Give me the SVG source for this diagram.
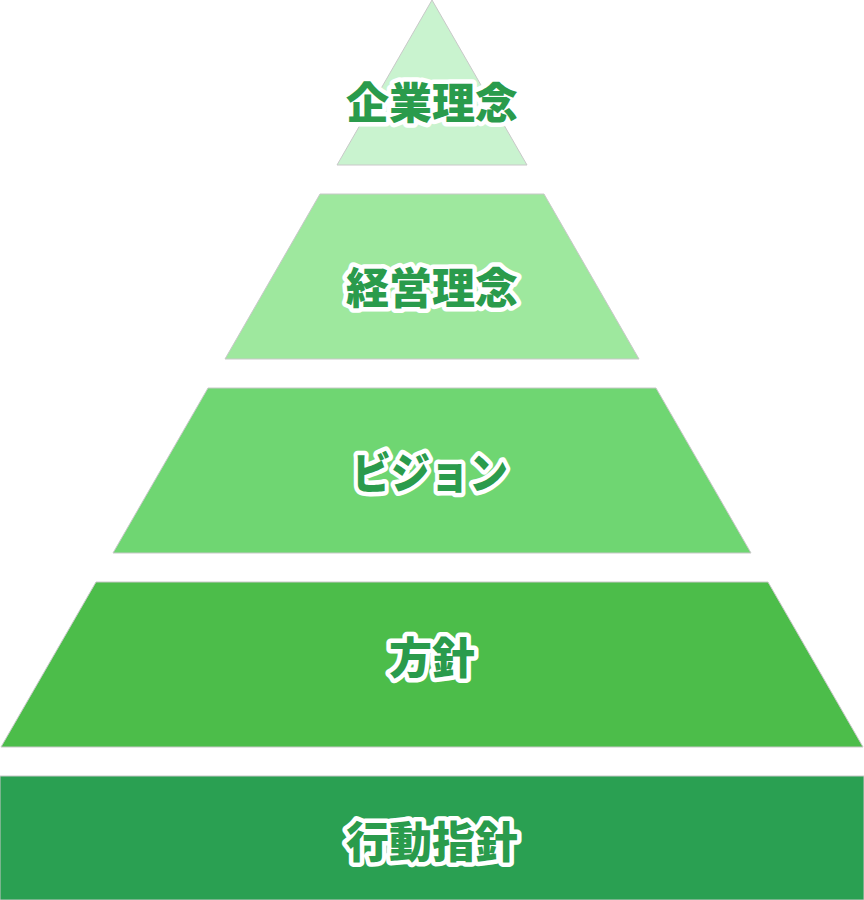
<svg xmlns="http://www.w3.org/2000/svg" width="864" height="900" viewBox="0 0 864 900">
<style>
.layer{stroke:#c8c8c8;stroke-width:1}
.lbl{font-family:"Noto Sans CJK JP","Noto Sans",sans-serif;font-weight:900;font-size:43px;fill:#2a9b4c;stroke:#ffffff;stroke-width:9;stroke-linejoin:round;paint-order:stroke;text-anchor:middle;dominant-baseline:central}
</style>
<rect width="864" height="900" fill="#ffffff"/>
<g id="node-kigyo-rinen">
<polygon class="layer" points="432,0 527,165 337,165" fill="#c9f3cf"/>
<text class="lbl" x="432" y="100">企業理念</text>
</g>
<g id="node-keiei-rinen">
<polygon class="layer" points="320,194 544,194 639,359 225,359" fill="#9ee89e"/>
<text class="lbl" x="432" y="285">経営理念</text>
</g>
<g id="node-vision">
<polygon class="layer" points="208,388 656,388 751,553 113,553" fill="#6fd672"/>
<text class="lbl" x="430" y="470" textLength="156" lengthAdjust="spacingAndGlyphs">ビジョン</text>
</g>
<g id="node-hoshin">
<polygon class="layer" points="96,582 768,582 863,747 1,747" fill="#4cbd4a"/>
<text class="lbl" x="432" y="655">方針</text>
</g>
<g id="node-kodo-shishin">
<rect class="layer" x="0" y="776" width="864" height="124" fill="#2aa052"/>
<text class="lbl" x="432" y="839">行動指針</text>
</g>
<g id="connectors"></g>
</svg>
